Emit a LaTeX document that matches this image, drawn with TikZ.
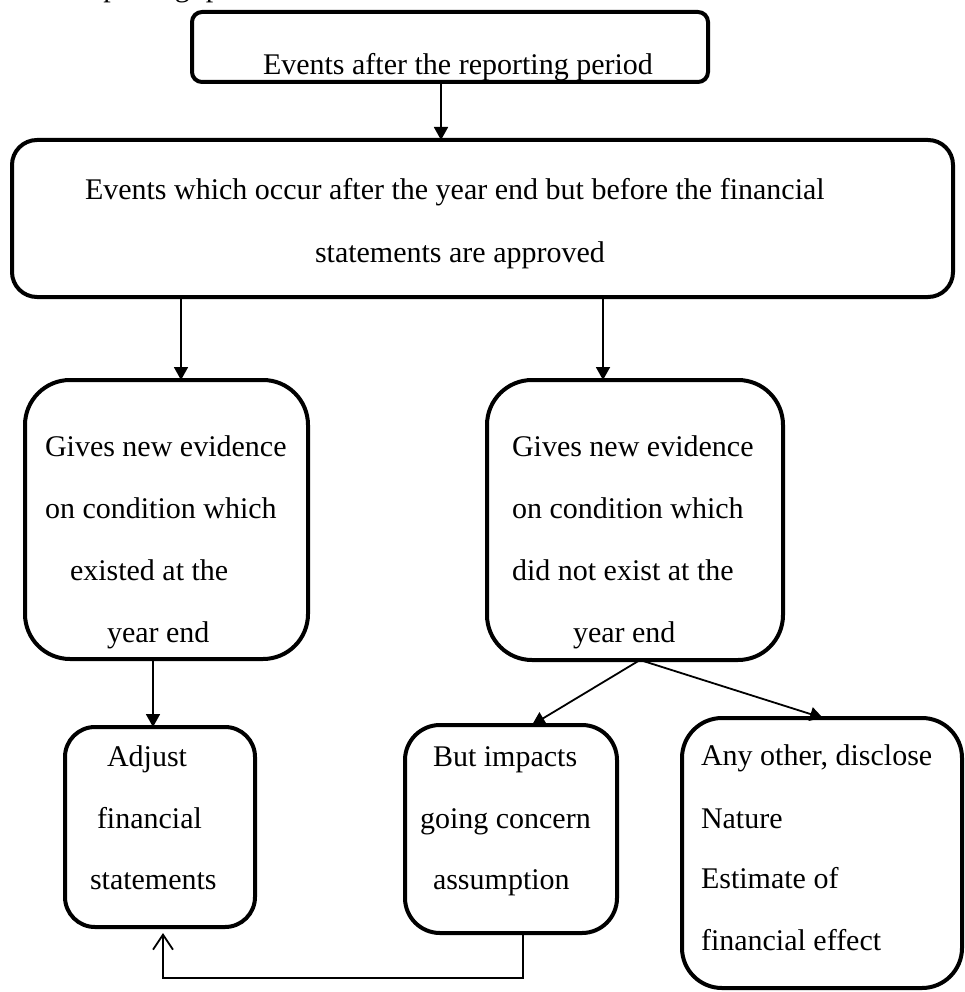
\documentclass[tikz,border=0pt]{standalone}
\usepackage{fontspec}
\setmainfont{Liberation Serif}
\usetikzlibrary{arrows.meta}
\begin{document}
\begin{tikzpicture}[x=1pt,y=-1pt,
  every node/.style={font=\fontsize{30}{36}\selectfont},
  box/.style={draw, line width=4pt, inner sep=0pt, outer sep=0pt},
  txt/.style={anchor=base west, inner sep=0pt, outer sep=0pt},
  link/.style={draw, line width=1.8pt},
  arr/.style={link, -{Triangle[width=14pt,length=13pt]}},
  openarr/.style={link, -{Straight Barb[width=20pt,length=15pt,line width=1.8pt]}}]
\useasboundingbox (0,0) rectangle (965,992);

% heading line running off the top edge
\node[txt] (head) at (80,-3) {reporting\hskip 16pt period};

% boxes
\node[box, rounded corners=10pt, minimum width=516pt, minimum height=70pt] (b1) at (450,47) {};
\node[box, rounded corners=25pt, minimum width=941pt, minimum height=157pt] (b2) at (482.5,218.5) {};
\node[box, rounded corners=45pt, minimum width=283pt, minimum height=279pt] (b3) at (166.5,519.5) {};
\node[box, rounded corners=45pt, minimum width=296pt, minimum height=280pt] (b4) at (635,520) {};
\node[box, rounded corners=30pt, minimum width=190pt, minimum height=200pt] (b5) at (160,827) {};
\node[box, rounded corners=35pt, minimum width=212pt, minimum height=208pt] (b6) at (511,829) {};
\node[box, rounded corners=40pt, minimum width=280pt, minimum height=270pt] (b7) at (822,853) {};

% texts
\node[txt] (t1) at (263,75) {Events after the reporting period};
\node[txt] (t2a) at (85,200) {Events which occur after the year end but before the financial};
\node[txt] (t2b) at (315,262) {statements are approved};
\node[txt] (t3a) at (45,456) {Gives new evidence};
\node[txt] (t3b) at (45,518) {on condition which};
\node[txt] (t3c) at (70,580) {existed at the};
\node[txt] (t3d) at (107,642) {year end};
\node[txt] (t4a) at (512,456) {Gives new evidence};
\node[txt] (t4b) at (512,518) {on condition which};
\node[txt] (t4c) at (512,580) {did not exist at the};
\node[txt] (t4d) at (573,642) {year end};
\node[txt] (t5a) at (107,766) {Adjust};
\node[txt] (t5b) at (97,828) {financial};
\node[txt] (t5c) at (90,889) {statements};
\node[txt] (t6a) at (433,766) {But impacts};
\node[txt] (t6b) at (420,828) {going concern};
\node[txt] (t6c) at (433,889) {assumption};
\node[txt] (t7a) at (701,765) {Any other, disclose};
\node[txt] (t7b) at (701,828) {Nature};
\node[txt] (t7c) at (701,888) {Estimate of};
\node[txt] (t7d) at (701,950) {financial effect};

% connector columns
\coordinate (c1) at (441,0);
\coordinate (c2) at (181,0);
\coordinate (c3) at (603,0);
\coordinate (c4) at (153,0);
\coordinate (c5) at (640,0);
\coordinate (c6) at (532,0);
\coordinate (c7) at (823,0);
\coordinate (c8) at (523,0);
\coordinate (c9) at (163,0);
\coordinate (fork) at (b4.south -| c5);
\coordinate (low) at (0,978);

\draw[arr] (b1.south -| c1) -- (b2.north -| c1);
\draw[arr] (b2.south -| c2) -- (b3.north -| c2);
\draw[arr] (b2.south -| c3) -- (b4.north -| c3);
\draw[arr] (b3.south -| c4) -- (b5.north -| c4);
\draw[arr] (fork) -- (b6.north -| c6);
\draw[arr] (fork) -- (b7.north -| c7);
\draw[openarr, shorten >=6pt] (b6.south -| c8) -- (low -| c8) -- (low -| c9) -- (b5.south -| c9);
\end{tikzpicture}
\end{document}
